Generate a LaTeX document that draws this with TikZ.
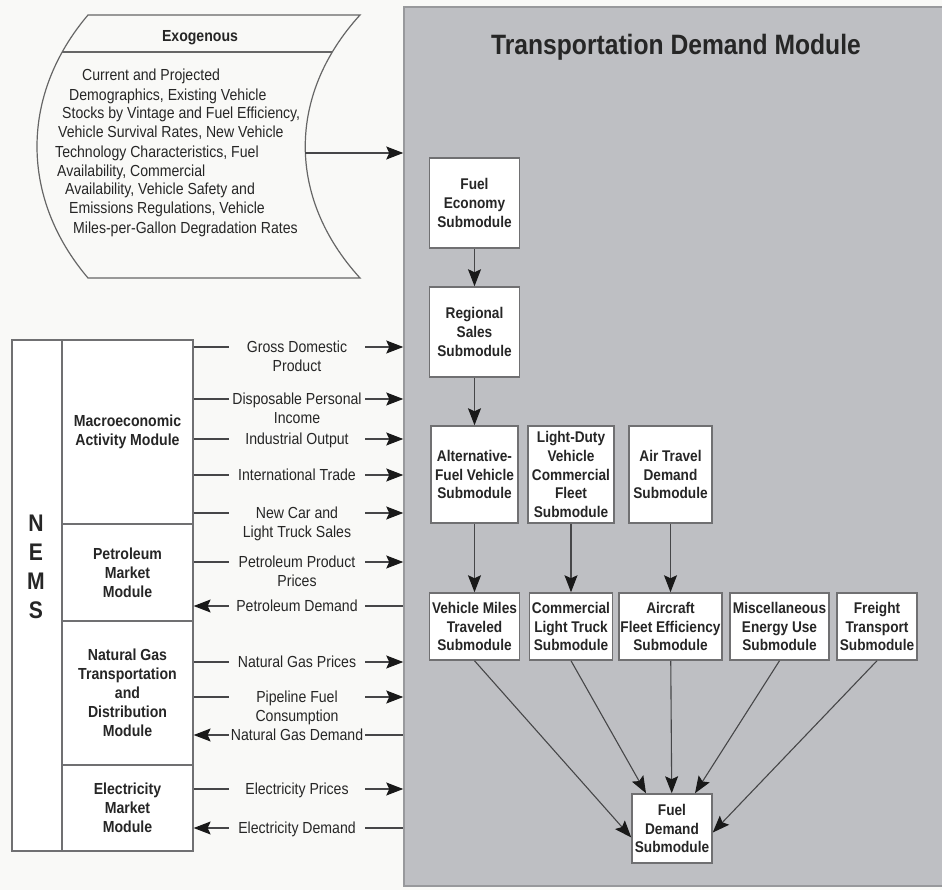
\documentclass[tikz,border=0pt]{standalone}
\usepackage{fontspec}
\setmainfont[FakeStretch=0.88]{Liberation Sans}
\usepackage{tikz}
\usetikzlibrary{arrows.meta,positioning,calc}

\definecolor{tdmgray}{RGB}{190,191,195}
\definecolor{paper}{RGB}{249,249,247}
\definecolor{inkgray}{RGB}{70,70,72}
\definecolor{boxline}{RGB}{112,112,114}

% label rows hang from the baseline of their first line
\newcommand\toprows[1]{\begin{tabular}[t]{@{}c@{}}#1\end{tabular}}

\tikzset{
  wh/.style 2 args={minimum width=#1pt, minimum height=#2pt},
  sub/.style={draw=boxline, line width=1.5pt, fill=white, align=center, inner sep=1pt,
    font=\fontsize{15.5}{18.6}\selectfont\bfseries, text=black!85},
  nemsbox/.style={draw=boxline, line width=1.3pt, fill=white, align=center,
    font=\fontsize{16}{19}\selectfont\bfseries, text=black!85},
  flowlbl/.style={inner sep=0pt, minimum width=136pt,
    font=\fontsize{16}{19}\selectfont, text=black!85},
  exotext/.style={inner sep=0pt, font=\fontsize{16}{19}\selectfont, text=black!85},
  link/.style={draw=inkgray, line width=1.1pt},
  >={Stealth[length=17pt,width=13pt,inset=3pt,color=black!90]},
}

\begin{document}
\begin{tikzpicture}[x=1pt,y=-1pt]
\useasboundingbox[fill=paper] (0,0) rectangle (942,890);

% Transportation Demand Module panel
\node[draw=tdmgray!80!black, line width=1.5pt, fill=tdmgray, wh={545}{879}] (tdm) at (676.5,446.5) {};
\node[font=\fontsize{28}{32}\selectfont\bfseries, text=black!85] (tdmtitle) at (676,47) {Transportation Demand Module};

% Exogenous inputs
\draw[draw=black!60, line width=1.2pt, fill=paper] (88,15) -- (360,15)
  .. controls (287,95) and (287,198) .. (360,278) -- (88,278)
  .. controls (20,198) and (20,95) .. (88,15) -- cycle;
\draw[draw=black!60, line width=1.2pt] (62,52) -- (332,52);
\coordinate (exo-out) at (305,153);
\node[font=\fontsize{16}{19}\selectfont\bfseries, text=black!85] (exo-head) at (200,38) {Exogenous};
\foreach \x/\y/\txt [count=\i] in {
  82/75/Current and Projected,
  69/95/{Demographics, Existing Vehicle},
  62/113/{Stocks by Vintage and Fuel Efficiency,},
  58/132/{Vehicle Survival Rates, New Vehicle},
  55/152/{Technology Characteristics, Fuel},
  57/171/{Availability, Commercial},
  65/189/{Availability, Vehicle Safety and},
  69/208/{Emissions Regulations, Vehicle},
  73/228/Miles-per-Gallon Degradation Rates}
  \node[exotext, anchor=base west] (exo-\i) at (\x,\y+5.7) {\txt};

% NEMS modules
\node[nemsbox, wh={50}{511}] (nemscol) at (37,595.5) {};
\node[font=\fontsize{24}{29}\selectfont\bfseries, align=center, text=black!85] (nemsname) at (36,567) {N\\E\\M\\S};
\node[nemsbox, wh={131}{184}] (macro) at (127.5,432) {Macroeconomic\\Activity Module};
\node[nemsbox, wh={131}{97}] (petro) at (127.5,572.5) {Petroleum\\Market\\Module};
\node[nemsbox, wh={131}{144}] (natgas) at (127.5,693) {Natural Gas\\Transportation\\and\\Distribution\\Module};
\node[nemsbox, wh={131}{86}] (elec) at (127.5,808) {Electricity\\Market\\Module};

% flows between NEMS and the module
\foreach \y/\src/\lt/\rt/\txt [count=\i] in {
  347/macro/-/->/{Gross Domestic\\Product},
  399/macro/-/->/{Disposable Personal\\Income},
  439/macro/-/->/{Industrial Output},
  475/macro/-/->/{International Trade},
  513/macro/-/->/{New Car and\\Light Truck Sales},
  562/petro/-/->/{Petroleum Product\\Prices},
  606/petro/<-/-/{Petroleum Demand},
  662/natgas/-/->/{Natural Gas Prices},
  697/natgas/-/->/{Pipeline Fuel\\Consumption},
  735/natgas/<-/-/{Natural Gas Demand},
  789/elec/-/->/{Electricity Prices},
  828/elec/<-/-/{Electricity Demand}}
{
  \node[flowlbl, anchor=base] (flow-\i) at (297,\y+5.7) {\toprows{\txt}};
  \coordinate (fl-\i) at (229,\y);
  \coordinate (fr-\i) at (365,\y);
  \draw[link,\lt] (\src.east |- fl-\i) -- (fl-\i);
  \draw[link,\rt] (fr-\i) -- (tdm.west |- fr-\i);
}

% submodules
\node[sub, wh={90}{90}] (fuelecon) at (474.5,203) {Fuel\\Economy\\Submodule};
\node[sub, wh={90}{90}] (regsales) at (474.5,332) {Regional\\Sales\\Submodule};
\node[sub, wh={87}{97}] (altfuel) at (474.5,474.5) {Alternative-\\Fuel Vehicle\\Submodule};
\node[sub, wh={86}{97}] (ldvfleet) at (571,474.5) {Light-Duty\\Vehicle\\Commercial\\Fleet\\Submodule};
\node[sub, wh={83}{97}] (airtravel) at (670.5,474.5) {Air Travel\\Demand\\Submodule};
\node[sub, wh={90}{67}] (vmt) at (474.5,626.5) {Vehicle Miles\\Traveled\\Submodule};
\node[sub, wh={83}{67}] (comtruck) at (571,626.5) {Commercial\\Light Truck\\Submodule};
\node[sub, wh={103}{67}] (aircraft) at (670.5,626.5) {Aircraft\\Fleet Efficiency\\Submodule};
\node[sub, wh={99}{67}] (misc) at (779.5,626.5) {Miscellaneous\\Energy Use\\Submodule};
\node[sub, wh={80}{67}] (freight) at (877,626.5) {Freight\\Transport\\Submodule};
\node[sub, wh={80}{69}] (fueldemand) at (672,828.5) {Fuel\\Demand\\Submodule};

\draw[link,->] (exo-out) -- (tdm.west |- exo-out);
\draw[link,->] (fuelecon) -- (regsales);
\draw[link,->] (regsales) -- (altfuel);
\draw[link,->] (altfuel) -- (vmt);
\draw[link,->] (ldvfleet) -- (comtruck);
\draw[link,->] (airtravel) -- (aircraft);
\draw[link,->] (vmt.south) -- ([yshift=-9pt]fueldemand.west);
\draw[link,->] (comtruck.south) -- ([xshift=-26pt]fueldemand.north);
\draw[link,->] (aircraft) -- (fueldemand);
\draw[link,->] (misc.south) -- ([xshift=23pt]fueldemand.north);
\draw[link,->] (freight.south) -- ([yshift=-4pt]fueldemand.east);
\end{tikzpicture}
\end{document}
